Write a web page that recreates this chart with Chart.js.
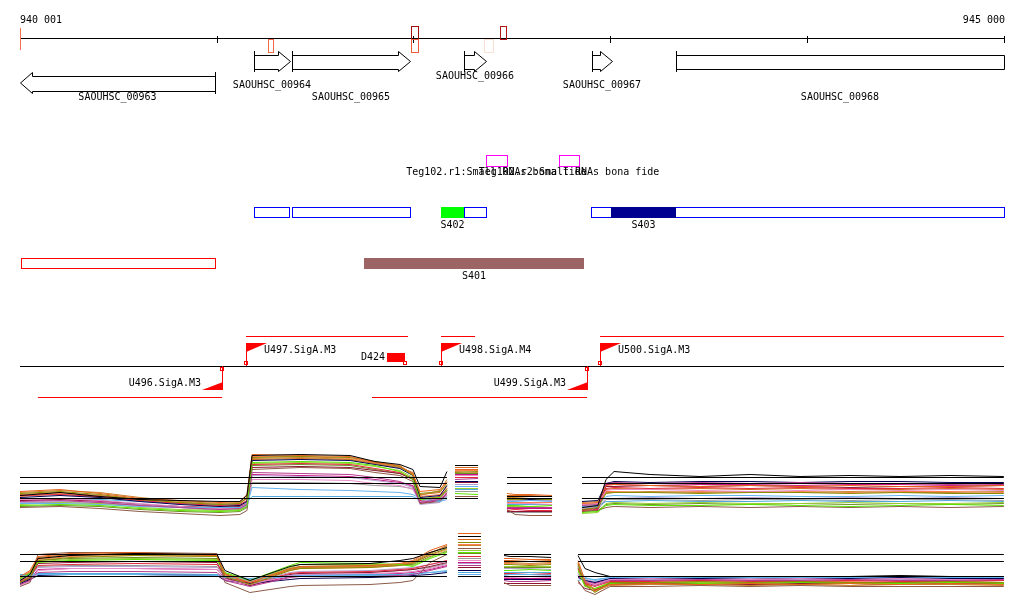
<!DOCTYPE html>
<html>
<head>
<meta charset="utf-8">
<title>SAOUHSC_00963 - SAOUHSC_00968</title>
<script src="https://cdn.jsdelivr.net/npm/chart.js@4.4.0/dist/chart.umd.min.js"></script>
<style>
  html, body { margin: 0; padding: 0; background: #fff; }
  #page { position: relative; width: 1024px; height: 611px; overflow: hidden; }
  #page canvas { position: absolute; left: 0; }
</style>
</head>
<body>
<div id="page">
  <canvas id="features" width="1024" height="440" style="top:0"></canvas>
  <canvas id="expr1" width="1024" height="82" style="top:440px"></canvas>
  <canvas id="expr2" width="1024" height="86" style="top:525px"></canvas>
</div>
<script>
// ---- region shown ----
const viewStart = 940001;
const viewEnd = 945000;
const rulerTicks = [941000, 942000, 943000, 944000];

// ---- genes ----
const geneNames = ['SAOUHSC_00963', 'SAOUHSC_00964', 'SAOUHSC_00965', 'SAOUHSC_00966', 'SAOUHSC_00967', 'SAOUHSC_00968'];
const geneStart = [940001, 941190, 941383, 942257, 942907, 943334];
const geneEnd = [940992, 941373, 941982, 942368, 943008, 945000];
const geneStrand = ['-', '+', '+', '+', '+', '+'];

// ---- small marks on the ruler ----
const markStart = [940001, 941261, 941987, 941987, 942358, 942440];
const markEnd = [940001, 941286, 942023, 942023, 942404, 942470];
const markSide = ['both', 'below', 'above', 'below', 'below', 'above'];

// ---- small RNAs ----
const srnaNames = ['Teg102.r1:Small RNAs bona fide', 'Teg102.r2:Small RNAs bona fide'];
const srnaStart = [942368, 942739];
const srnaEnd = [942475, 942841];

// ---- segments ----
const segBoxStart = [941190, 941383, 942257, 942902];
const segBoxEnd = [941367, 941982, 942368, 944999];
const segNames = ['S402', 'S403'];
const segFillStart = [942140, 943003];
const segFillEnd = [942257, 943334];
const s401Start = 941749, s401End = 942866;
const redBoxStart = 940006, redBoxEnd = 940992;

// ---- promoters / transcription units ----
const upLineStart = [941149, 942140, 942948];
const upLineEnd = [941972, 942313, 944999];
const downLineStart = [940092, 941789];
const downLineEnd = [941027, 942882];
const fwdNames = ['U497.SigA.M3', 'U498.SigA.M4', 'U500.SigA.M3'];
const fwdPos = [941149, 942140, 942948];
const revNames = ['U496.SigA.M3', 'U499.SigA.M3'];
const revPos = [941027, 942882];
const d424Start = 941865, d424End = 941957;

// ---- expression track 1: sample positions per block ----
const expr1X = [
  [940001, 940204, 940407, 940611, 940814, 941017, 941118, 941154, 941180, 941424, 941678, 941804, 941931, 941997, 942033, 942135, 942170],
  [942211, 942328],
  [942475, 942516, 942592, 942704],
  [942856, 942937, 942978, 943019, 943202, 943456, 943710, 943964, 944218, 944472, 944726, 944999]
];
const expr1Block1 = [
  [24, 27, 23, 20, 19, 18, 18, 24, 64, 65, 64, 58, 55, 50, 33, 32, 48],
  [28, 30, 26, 21, 19, 17, 18, 25, 65, 64, 63, 57, 54, 45, 28, 30, 38],
  [26, 28, 25, 20, 17, 15, 16, 22, 62, 63, 62, 58, 53, 44, 26, 28, 35],
  [14, 15, 14, 11, 9, 8, 9, 13, 57, 58, 57, 54, 48, 40, 20, 22, 30],
  [18, 19, 17, 14, 12, 10, 11, 15, 47, 46, 45, 42, 38, 33, 17, 20, 26],
  [16, 16, 15, 13, 12, 12, 12, 14, 32, 30, 29, 28, 27, 25, 21, 18, 20],
  [12, 13, 11, 8, 6, 4, 5, 9, 50, 52, 51, 47, 44, 38, 16, 18, 27],
  [20, 21, 19, 16, 13, 11, 12, 16, 40, 40, 39, 36, 34, 30, 18, 21, 28],
  [22, 24, 22, 18, 15, 13, 14, 18, 59, 60, 59, 55, 51, 44, 22, 24, 34],
  [24, 25, 23, 19, 16, 14, 15, 19, 55, 56, 55, 51, 47, 41, 19, 23, 31],
  [17, 18, 17, 15, 12, 10, 11, 14, 44, 43, 42, 39, 36, 32, 15, 17, 24],
  [27, 29, 27, 22, 18, 16, 17, 22, 61, 62, 60, 56, 52, 46, 24, 29, 40],
  [21, 21, 20, 18, 16, 15, 15, 17, 23, 23, 23, 23, 23, 23, 19, 19, 22],
  [19, 20, 19, 15, 13, 12, 13, 16, 52, 53, 52, 49, 46, 40, 18, 21, 29],
  [25, 27, 24, 20, 17, 15, 16, 21, 60, 61, 60, 56, 52, 47, 25, 27, 37],
  [15, 17, 16, 12, 10, 9, 10, 14, 56, 57, 56, 53, 49, 42, 21, 23, 31],
  [19, 20, 18, 15, 13, 11, 12, 16, 45, 44, 43, 40, 37, 34, 16, 19, 25],
  [23, 26, 22, 19, 16, 13, 14, 18, 63, 63, 61, 57, 53, 46, 23, 25, 33],
  [17, 17, 16, 14, 12, 9, 10, 13, 37, 37, 36, 34, 33, 31, 17, 19, 23],
  [13, 14, 13, 10, 8, 7, 8, 12, 54, 55, 54, 50, 46, 41, 19, 21, 29]
];
const expr1Block2 = [
  [54, 54], [50, 50], [47, 48], [26, 25], [40, 41], [33, 33], [23, 23],
  [44, 44], [38, 38], [42, 42], [35, 35], [48, 47], [30, 30], [37, 37],
  [52, 52], [31, 31], [45, 45], [49, 49], [28, 28], [46, 46]
];
const expr1Block3 = [
  [23, 23, 23, 23], [26, 25, 25, 24], [20, 20, 21, 20], [14, 14, 13, 14],
  [12, 12, 12, 12], [18, 18, 19, 18], [10, 5, 4, 4], [16, 16, 16, 15],
  [21, 21, 20, 21], [9, 10, 9, 9], [19, 19, 19, 19], [22, 22, 21, 21],
  [15, 15, 15, 15], [8, 8, 8, 8], [24, 24, 24, 23], [13, 13, 13, 12],
  [11, 11, 11, 11], [17, 17, 17, 17], [7, 7, 7, 7], [20, 20, 20, 20]
];
const expr1Block4 = [
  [12, 14, 40, 48, 45, 43, 45, 43, 44, 43, 44, 43],
  [16, 17, 34, 35, 34, 33, 34, 33, 34, 33, 33, 34],
  [10, 12, 26, 27, 27, 26, 27, 27, 26, 27, 26, 26],
  [7, 8, 14, 15, 14, 14, 15, 14, 13, 14, 15, 14],
  [14, 15, 36, 37, 36, 37, 36, 37, 36, 36, 35, 36],
  [13, 14, 23, 24, 23, 24, 24, 23, 23, 24, 23, 24],
  [8, 9, 12, 13, 12, 13, 12, 13, 12, 13, 12, 13],
  [15, 16, 29, 30, 30, 29, 28, 29, 30, 29, 30, 29],
  [18, 19, 36, 38, 37, 38, 38, 37, 38, 38, 37, 37],
  [9, 10, 31, 32, 31, 32, 31, 32, 31, 31, 32, 31],
  [11, 12, 21, 21, 22, 21, 22, 21, 22, 21, 22, 21],
  [17, 18, 27, 27, 28, 27, 28, 27, 28, 27, 27, 28],
  [12, 13, 18, 18, 19, 18, 18, 19, 18, 18, 19, 18],
  [10, 11, 33, 33, 34, 33, 34, 33, 32, 33, 33, 34],
  [15, 16, 30, 31, 30, 31, 30, 31, 30, 30, 31, 30],
  [6, 7, 16, 17, 16, 17, 16, 16, 17, 16, 16, 17],
  [12, 13, 35, 35, 34, 35, 35, 34, 35, 35, 34, 35],
  [13, 14, 28, 28, 27, 28, 27, 28, 27, 28, 28, 27],
  [9, 10, 20, 20, 20, 19, 20, 20, 19, 20, 20, 19],
  [8, 9, 15, 16, 15, 16, 15, 16, 15, 16, 15, 16]
];
const expr1Ref = [42, 36, 21];

// ---- expression track 2 ----
const expr2X = [
  [940001, 940052, 940092, 940255, 940585, 941002, 941042, 941169, 941373, 941424, 941779, 941931, 941997, 942084, 942170],
  [942226, 942343],
  [942460, 942491, 942592, 942699],
  [942836, 942871, 942922, 942998, 943202, 943456, 943710, 943964, 944218, 944472, 944726, 944999]
];
const expr2Block1 = [
  [30, 36, 52, 55, 57, 56, 40, 30, 44, 46, 47, 50, 52, 58, 63],
  [34, 40, 54, 57, 58, 55, 36, 28, 42, 44, 45, 47, 50, 60, 66],
  [28, 33, 50, 53, 55, 54, 34, 26, 40, 42, 43, 45, 47, 56, 62],
  [32, 37, 48, 50, 51, 50, 38, 30, 45, 48, 47, 46, 44, 52, 58],
  [26, 30, 38, 39, 39, 38, 30, 24, 33, 34, 34, 35, 36, 40, 44],
  [35, 35, 36, 36, 36, 35, 33, 31, 34, 35, 35, 35, 36, 38, 40],
  [24, 28, 56, 58, 58, 57, 28, 18, 24, 25, 26, 28, 30, 48, 56],
  [25, 29, 40, 42, 42, 41, 31, 26, 35, 36, 37, 38, 39, 42, 46],
  [27, 31, 35, 36, 36, 35, 30, 27, 31, 32, 33, 34, 35, 36, 38],
  [29, 34, 45, 46, 47, 46, 34, 27, 37, 38, 39, 41, 42, 46, 50],
  [31, 35, 43, 44, 44, 43, 35, 29, 38, 39, 40, 42, 43, 46, 49],
  [33, 38, 52, 55, 56, 55, 37, 29, 41, 43, 44, 46, 49, 58, 64],
  [36, 36, 37, 37, 37, 36, 34, 32, 35, 36, 36, 36, 37, 38, 39],
  [28, 32, 47, 48, 49, 48, 33, 25, 36, 37, 38, 40, 41, 44, 48],
  [32, 37, 53, 56, 57, 55, 36, 27, 41, 43, 44, 46, 48, 57, 65],
  [30, 35, 49, 51, 52, 51, 37, 29, 43, 46, 46, 46, 45, 53, 60],
  [26, 31, 41, 42, 42, 41, 32, 25, 34, 35, 36, 37, 38, 41, 45],
  [33, 39, 51, 54, 55, 54, 35, 28, 40, 42, 43, 45, 48, 55, 61],
  [29, 33, 44, 45, 45, 44, 33, 26, 36, 37, 38, 40, 41, 43, 47],
  [31, 36, 50, 52, 53, 52, 36, 28, 42, 44, 45, 46, 46, 54, 59]
];
const expr2Block2 = [
  [74, 74], [77, 77], [68, 68], [58, 58], [45, 45], [36, 36], [62, 62],
  [50, 50], [40, 40], [54, 54], [47, 47], [65, 65], [38, 38], [43, 43],
  [71, 71], [60, 60], [48, 48], [66, 66], [52, 52], [57, 57]
];
const expr2Block3 = [
  [55, 54, 54, 53], [52, 52, 51, 51], [46, 46, 45, 46], [40, 40, 41, 40],
  [30, 29, 29, 30], [35, 36, 36, 35], [28, 25, 25, 25], [33, 33, 34, 33],
  [31, 31, 31, 31], [37, 37, 36, 37], [42, 42, 42, 41], [48, 48, 47, 48],
  [38, 38, 38, 38], [27, 27, 27, 27], [50, 50, 49, 50], [44, 44, 44, 44],
  [32, 32, 32, 32], [47, 47, 46, 47], [36, 36, 36, 36], [43, 43, 43, 43]
];
const expr2Block4 = [
  [55, 42, 38, 34, 34, 34, 34, 34, 34, 35, 34, 34],
  [50, 30, 20, 26, 27, 26, 27, 26, 27, 26, 27, 26],
  [46, 26, 18, 28, 28, 29, 28, 29, 28, 28, 29, 28],
  [40, 24, 22, 27, 28, 27, 27, 28, 27, 27, 28, 27],
  [35, 28, 25, 30, 30, 31, 30, 30, 31, 30, 30, 31],
  [44, 33, 30, 33, 33, 34, 33, 33, 33, 34, 33, 33],
  [30, 20, 16, 24, 24, 25, 24, 25, 24, 24, 24, 24],
  [38, 29, 26, 31, 32, 31, 31, 32, 31, 32, 31, 31],
  [33, 30, 28, 32, 32, 32, 33, 32, 32, 33, 32, 32],
  [42, 27, 24, 29, 29, 30, 29, 29, 30, 29, 29, 30],
  [36, 31, 29, 32, 31, 32, 32, 31, 32, 31, 32, 32],
  [48, 25, 19, 25, 26, 26, 25, 26, 25, 26, 26, 25],
  [30, 32, 31, 33, 33, 33, 33, 33, 33, 33, 33, 33],
  [28, 22, 20, 27, 27, 27, 26, 27, 27, 26, 27, 27],
  [47, 27, 21, 26, 26, 27, 26, 26, 27, 26, 26, 27],
  [42, 25, 22, 28, 27, 28, 28, 27, 28, 27, 28, 28],
  [34, 29, 27, 31, 31, 30, 31, 31, 30, 31, 31, 30],
  [45, 28, 21, 29, 30, 29, 30, 29, 29, 30, 29, 30],
  [37, 30, 28, 32, 32, 32, 32, 32, 32, 32, 32, 32],
  [43, 26, 21, 28, 28, 28, 27, 28, 28, 28, 27, 28]
];
const expr2Ref = [56, 49, 34];

// ---- styles / layout ----
const seriesColors = ['#000000', '#e8641e', '#8c8c00', '#5ae600', '#b43c8c', '#64b4f0', '#8c5a46',
  '#e68cc8', '#000050', '#e6283c', '#b4a0d2', '#c8822d', '#50aadc', '#8c1432',
  '#d2691e', '#9acd32', '#c71585', '#ff7f50', '#9a9a9a', '#6b8e23'];
const markColors = ['#f07050', '#f06a4a', '#a01010', '#f05a3c', '#f8e0d4', '#b01818'];
const geneLabelY = [97, 85, 97, 76, 85, 97];
const geneRow = [1, 0, 0, 0, 0, 0];
const FONT = '10px "DejaVu Sans Mono", monospace';
const sideMargin = 20;
const bpPerPx = (viewEnd - viewStart) / (1024 - 2 * sideMargin);
const xMin = viewStart - sideMargin * bpPerPx;
const xMax = viewEnd + sideMargin * bpPerPx;

const L = {
  ruler: 38.5, baseline: 366.5, upLine: 336.5, downLine: 397.5,
  rowBar: [[51, 72], [72, 94]], rowBody: [[55, 69], [76, 91]],
  srnaTop: 155, srnaBottom: 166, srnaLabel: 172,
  segTop: 207, segBottom: 217, segLabel: 225,
  s401Top: 258, s401Bottom: 268, s401Label: 276
};

function spaced(n) {
  return n.toString().replace(/\B(?=(\d{3})+(?!\d))/g, ' ');
}

function lineSet(starts, ends, y, color) {
  const data = [];
  starts.forEach((s, i) => {
    if (i > 0) data.push({ x: (ends[i - 1] + s) / 2, y: null });
    data.push({ x: s, y: y }, { x: ends[i], y: y });
  });
  return { data: data, borderColor: color, borderWidth: 1, pointRadius: 0, spanGaps: false };
}

const featurePlugin = {
  id: 'features',
  afterDatasetsDraw(chart) {
    const ctx = chart.ctx;
    const X = v => Math.round(chart.scales.x.getPixelForValue(v));
    const Y = v => Math.round(chart.scales.y.getPixelForValue(v));
    ctx.save();
    ctx.font = FONT;
    ctx.textBaseline = 'middle';
    ctx.lineWidth = 1;
    ctx.fillStyle = '#000';
    ctx.strokeStyle = '#000';

    // ruler ticks and end labels
    const ry = Y(L.ruler);
    rulerTicks.concat([viewEnd]).forEach(t => {
      ctx.beginPath();
      ctx.moveTo(X(t) + 0.5, ry - 3);
      ctx.lineTo(X(t) + 0.5, ry + 4);
      ctx.stroke();
    });
    ctx.textAlign = 'left';
    ctx.fillText(spaced(viewStart), X(viewStart), 20);
    ctx.textAlign = 'right';
    ctx.fillText(spaced(viewEnd), X(viewEnd) + 1, 20);

    // marks around the ruler
    markStart.forEach((s, i) => {
      const x0 = X(s), x1 = X(markEnd[i]);
      ctx.strokeStyle = markColors[i];
      if (markSide[i] === 'both') {
        ctx.beginPath();
        ctx.moveTo(x0 + 0.5, ry - 11);
        ctx.lineTo(x0 + 0.5, ry + 11);
        ctx.stroke();
        return;
      }
      const top = markSide[i] === 'above' ? ry - 13 : ry;
      ctx.strokeRect(x0 + 0.5, top + 0.5, Math.max(x1 - x0, 2), 13);
    });

    // genes
    ctx.strokeStyle = '#000';
    ctx.textAlign = 'center';
    geneNames.forEach((name, i) => {
      const x0 = X(geneStart[i]), x1 = X(Math.min(geneEnd[i], viewEnd));
      const bar = L.rowBar[geneRow[i]], body = L.rowBody[geneRow[i]];
      const mid = (bar[0] + bar[1]) / 2;
      const head = 12;
      ctx.beginPath();
      if (geneEnd[i] >= viewEnd) {
        ctx.rect(x0 + 0.5, body[0] + 0.5, x1 - x0, body[1] - body[0]);
        ctx.moveTo(x0 + 0.5, bar[0]);
        ctx.lineTo(x0 + 0.5, bar[1]);
      } else if (geneStrand[i] === '+') {
        ctx.moveTo(x0 + 0.5, body[0] + 0.5);
        ctx.lineTo(x1 - head + 0.5, body[0] + 0.5);
        ctx.lineTo(x1 - head + 0.5, bar[0] + 0.5);
        ctx.lineTo(x1 + 0.5, mid);
        ctx.lineTo(x1 - head + 0.5, bar[1] - 0.5);
        ctx.lineTo(x1 - head + 0.5, body[1] + 0.5);
        ctx.lineTo(x0 + 0.5, body[1] + 0.5);
        ctx.moveTo(x0 + 0.5, bar[0]);
        ctx.lineTo(x0 + 0.5, bar[1]);
      } else {
        ctx.moveTo(x1 + 0.5, body[0] + 0.5);
        ctx.lineTo(x0 + head + 0.5, body[0] + 0.5);
        ctx.lineTo(x0 + head + 0.5, bar[0] + 0.5);
        ctx.lineTo(x0 + 0.5, mid);
        ctx.lineTo(x0 + head + 0.5, bar[1] - 0.5);
        ctx.lineTo(x0 + head + 0.5, body[1] + 0.5);
        ctx.lineTo(x1 + 0.5, body[1] + 0.5);
        ctx.moveTo(x1 + 0.5, bar[0]);
        ctx.lineTo(x1 + 0.5, bar[1]);
      }
      ctx.stroke();
      ctx.fillText(name, (x0 + x1) / 2, geneLabelY[i]);
    });

    // small RNAs
    ctx.strokeStyle = '#ff00ff';
    srnaNames.forEach((name, i) => {
      const x0 = X(srnaStart[i]), x1 = X(srnaEnd[i]);
      ctx.strokeRect(x0 + 0.5, L.srnaTop + 0.5, x1 - x0, L.srnaBottom - L.srnaTop);
    });
    srnaNames.forEach((name, i) => {
      ctx.fillText(name, (X(srnaStart[i]) + X(srnaEnd[i])) / 2, L.srnaLabel);
    });

    // segments
    ctx.strokeStyle = '#0000ff';
    segBoxStart.forEach((s, i) => {
      const x0 = X(s), x1 = X(segBoxEnd[i]);
      ctx.strokeRect(x0 + 0.5, L.segTop + 0.5, x1 - x0, L.segBottom - L.segTop);
    });
    const segColors = ['#00ff00', '#000090'];
    segNames.forEach((name, i) => {
      const x0 = X(segFillStart[i]), x1 = X(segFillEnd[i]);
      ctx.fillStyle = segColors[i];
      ctx.fillRect(x0, L.segTop, x1 - x0, L.segBottom - L.segTop + 1);
      ctx.fillStyle = '#000';
      ctx.fillText(name, (x0 + x1) / 2, L.segLabel);
    });

    ctx.strokeStyle = '#ff0000';
    ctx.strokeRect(X(redBoxStart) + 0.5, L.s401Top + 0.5, X(redBoxEnd) - X(redBoxStart), L.s401Bottom - L.s401Top);
    ctx.fillStyle = '#9c6464';
    ctx.fillRect(X(s401Start), L.s401Top, X(s401End) - X(s401Start), L.s401Bottom - L.s401Top + 1);
    ctx.fillStyle = '#000';
    ctx.fillText('S401', (X(s401Start) + X(s401End)) / 2, L.s401Label);

    // promoter flags
    const by = Math.floor(L.baseline);
    ctx.strokeStyle = '#ff0000';
    ctx.fillStyle = '#ff0000';
    fwdPos.forEach((p, i) => {
      const x = X(p);
      ctx.beginPath();
      ctx.moveTo(x + 0.5, by);
      ctx.lineTo(x + 0.5, by - 23);
      ctx.stroke();
      ctx.beginPath();
      ctx.moveTo(x, by - 23);
      ctx.lineTo(x + 21, by - 23);
      ctx.lineTo(x, by - 14);
      ctx.closePath();
      ctx.fill();
      ctx.strokeRect(x - 1.5, by - 4.5, 3, 3);
    });
    revPos.forEach((p, i) => {
      const x = X(p);
      ctx.beginPath();
      ctx.moveTo(x + 0.5, by);
      ctx.lineTo(x + 0.5, by + 24);
      ctx.stroke();
      ctx.beginPath();
      ctx.moveTo(x + 1, by + 24);
      ctx.lineTo(x - 20, by + 24);
      ctx.lineTo(x + 1, by + 16);
      ctx.closePath();
      ctx.fill();
      ctx.strokeRect(x - 1.5, by + 1.5, 3, 3);
    });
    const d0 = X(d424Start), d1 = X(d424End);
    ctx.fillRect(d0, by - 13, d1 - d0, 9);
    ctx.strokeRect(d1 - 1.5, by - 4.5, 3, 3);

    ctx.fillStyle = '#000';
    ctx.textAlign = 'left';
    fwdPos.forEach((p, i) => ctx.fillText(fwdNames[i], X(p) + 18, by - 16));
    ctx.textAlign = 'right';
    revPos.forEach((p, i) => ctx.fillText(revNames[i], X(p) - 21, by + 17));
    ctx.fillText('D424', d0 - 2, by - 9);
    ctx.restore();
  }
};

const baseOptions = (yMin, yMax) => ({
  responsive: false,
  animation: false,
  events: [],
  layout: { padding: 0 },
  plugins: { legend: { display: false }, tooltip: { enabled: false } },
  elements: { line: { tension: 0, borderWidth: 1, fill: false }, point: { radius: 0 } },
  scales: {
    x: { type: 'linear', min: xMin, max: xMax, display: false },
    y: { type: 'linear', min: yMin, max: yMax, display: false }
  }
});

const featureOptions = baseOptions(0, 440);
featureOptions.scales.y.reverse = true;
new Chart(document.getElementById('features'), {
  type: 'line',
  data: {
    datasets: [
      lineSet([viewStart], [viewEnd], L.ruler, '#000000'),
      lineSet([viewStart], [viewEnd], L.baseline, '#000000'),
      lineSet(upLineStart, upLineEnd, L.upLine, '#ff0000'),
      lineSet(downLineStart, downLineEnd, L.downLine, '#ff0000')
    ]
  },
  options: featureOptions,
  plugins: [featurePlugin]
});

function buildSeries(blocksX, blocksY, s) {
  const pts = [];
  blocksX.forEach((xs, b) => {
    if (b > 0) {
      const prev = blocksX[b - 1];
      pts.push({ x: (prev[prev.length - 1] + xs[0]) / 2, y: null });
    }
    xs.forEach((x, i) => pts.push({ x: x, y: blocksY[b][s][i] }));
  });
  return pts;
}

function buildRef(blocksX, level, skipBlock) {
  const pts = [];
  blocksX.forEach((xs, b) => {
    if (b === skipBlock) return;
    if (pts.length) pts.push({ x: xs[0] - 1, y: null });
    pts.push({ x: xs[0], y: level }, { x: xs[xs.length - 1], y: level });
  });
  return pts;
}

function makeExprChart(id, blocksX, blocksY, refs, yMin, yMax) {
  const datasets = refs.map((level, r) => ({
    data: buildRef(blocksX, level, r < refs.length - 1 ? 1 : -1),
    borderColor: '#000000', borderWidth: 1, pointRadius: 0, spanGaps: false
  }));
  seriesColors.forEach((c, s) => {
    datasets.push({ data: buildSeries(blocksX, blocksY, s), borderColor: c, borderWidth: 1, pointRadius: 0, spanGaps: false });
  });
  new Chart(document.getElementById(id), {
    type: 'line',
    data: { datasets: datasets },
    options: baseOptions(yMin, yMax)
  });
}

makeExprChart('expr1', expr1X, [expr1Block1, expr1Block2, expr1Block3, expr1Block4], expr1Ref, -2.5, 79.5);
makeExprChart('expr2', expr2X, [expr2Block1, expr2Block2, expr2Block3, expr2Block4], expr2Ref, -0.5, 85.5);
</script>
</body>
</html>
